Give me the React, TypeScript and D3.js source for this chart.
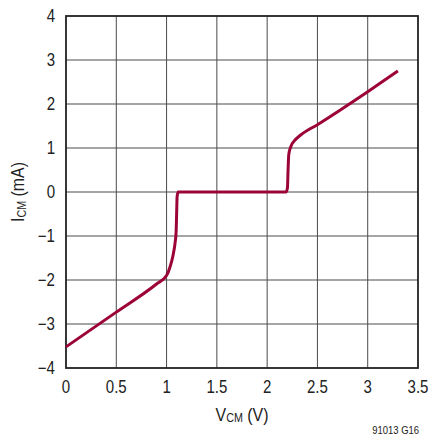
import React from 'react'
import * as d3 from 'd3'

// V_CM (V) vs I_CM (mA)
const vcm = [0, 0.5, 0.9, 1.0, 1.035, 1.065, 1.085, 1.095, 1.1, 1.105, 1.115, 1.6, 2.19, 2.202, 2.208, 2.215, 2.235, 2.27, 2.33, 2.5, 3.0, 3.3]
const icm = [-3.52, -2.73, -2.09, -1.9, -1.7, -1.43, -1.15, -0.9, -0.5, -0.1, 0, 0, 0, 0.1, 0.5, 0.85, 1.03, 1.16, 1.29, 1.53, 2.28, 2.75]

const xTicks = [0, 0.5, 1, 1.5, 2, 2.5, 3, 3.5]
const yTicks = [-4, -3, -2, -1, 0, 1, 2, 3, 4]

const W = 430
const H = 436
const margin = { left: 66, top: 16, right: 12, bottom: 68 }
const FONT = '"Liberation Sans", Arial, sans-serif'
const SQUEEZE = 0.86 // condensed look of the original lettering

const fmt = (v: number) => (v < 0 ? '\u2212' + Math.abs(v) : String(v))

// text drawn horizontally condensed around its anchor point
const Label: React.FC<{
  x: number
  y: number
  size: number
  anchor?: 'start' | 'middle' | 'end'
  rotate?: number
  children: React.ReactNode
}> = ({ x, y, size, anchor = 'start', rotate = 0, children }) => (
  <text
    transform={`translate(${x},${y}) rotate(${rotate}) scale(${SQUEEZE},1)`}
    textAnchor={anchor}
    fontFamily={FONT}
    fontSize={size}
    fill="#222"
  >
    {children}
  </text>
)

export default function App() {
  const x = d3.scaleLinear().domain([0, 3.5]).range([margin.left, W - margin.right])
  const y = d3.scaleLinear().domain([-4, 4]).range([H - margin.bottom, margin.top])

  const pts: [number, number][] = vcm.map((v, i) => [v, icm[i]])
  const line = d3
    .line<[number, number]>()
    .x(d => x(d[0]))
    .y(d => y(d[1]))
    .curve(d3.curveMonotoneX)

  const [x0, x1] = x.range()
  const [y0, y1] = y.range()

  return (
    <div style={{ position: 'fixed', left: 0, top: 0 }}>
      <svg width={W} height={H} style={{ display: 'block', background: '#fff' }}>
        {/* grid */}
        <g stroke="#4a4a4a" strokeWidth={1}>
          {xTicks.slice(1, -1).map(t => (
            <line key={'gx' + t} x1={x(t)} x2={x(t)} y1={y1} y2={y0} />
          ))}
          {yTicks.slice(1, -1).map(t => (
            <line key={'gy' + t} x1={x0} x2={x1} y1={y(t)} y2={y(t)} />
          ))}
        </g>
        <rect x={x0} y={y1} width={x1 - x0} height={y0 - y1} fill="none" stroke="#222" strokeWidth={1.8} />

        {/* curve */}
        <path d={line(pts) || ''} fill="none" stroke="#9c0438" strokeWidth={3} strokeLinejoin="round" />

        {/* tick labels */}
        {xTicks.map(t => (
          <Label key={'tx' + t} x={x(t)} y={392.5} size={17.5} anchor="middle">
            {fmt(t)}
          </Label>
        ))}
        {yTicks.map(t => (
          <Label key={'ty' + t} x={55} y={y(t) + 6.3} size={17.5} anchor="end">
            {fmt(t)}
          </Label>
        ))}

        {/* axis titles */}
        <Label x={(x0 + x1) / 2} y={420.5} size={18.5} anchor="middle">
          V<tspan fontSize={12.5} dy={1.5}>CM</tspan>
          <tspan dy={-1.5}> (V)</tspan>
        </Label>
        <Label x={24} y={(y0 + y1) / 2} size={18.5} anchor="middle" rotate={-90}>
          I<tspan fontSize={12.5} dy={1.5}>CM</tspan>
          <tspan dy={-1.5}> (mA)</tspan>
        </Label>

        <Label x={419} y={434} size={11} anchor="end">
          91013 G16
        </Label>
      </svg>
    </div>
  )
}
